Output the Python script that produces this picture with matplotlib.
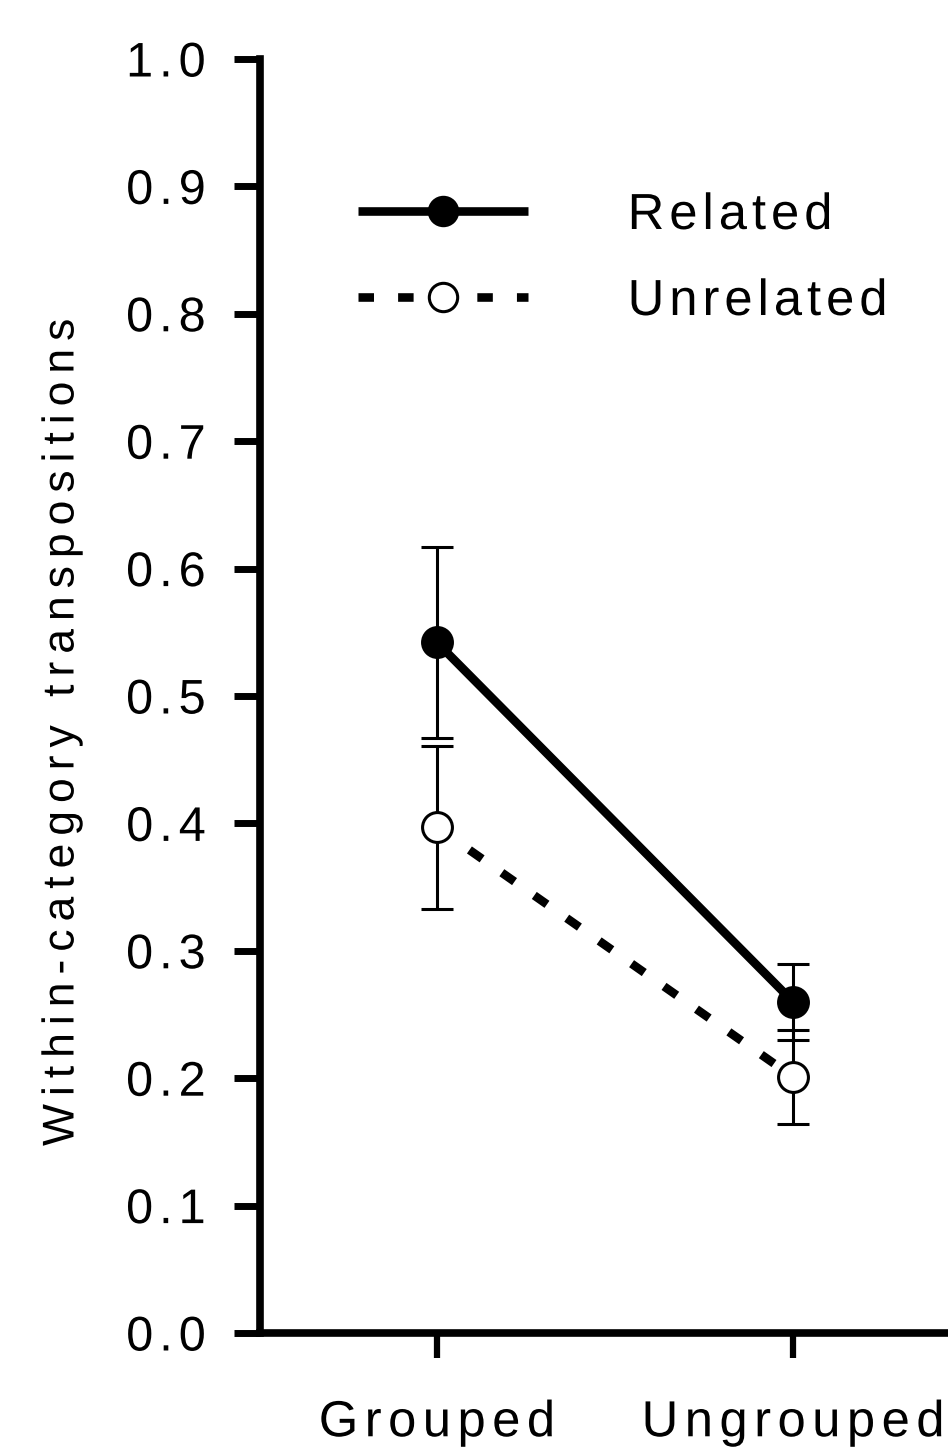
import matplotlib
matplotlib.use('Agg')
import numpy as np
import matplotlib.pyplot as plt
from matplotlib.ticker import FixedLocator, FixedFormatter
from matplotlib.patheffects import AbstractPathEffect
from matplotlib.path import Path
from matplotlib.textpath import TextToPath

# ---- data ----
conditions = ['Grouped', 'Ungrouped']
related_mean = [0.542, 0.260]
related_err = [0.075, 0.030]
unrelated_mean = [0.397, 0.201]
unrelated_err = [0.064, 0.037]
series_labels = ['Related', 'Unrelated']
y_ticks = [0.0, 0.1, 0.2, 0.3, 0.4, 0.5, 0.6, 0.7, 0.8, 0.9, 1.0]
y_tick_labels = ['0.0', '0.1', '0.2', '0.3', '0.4', '0.5', '0.6', '0.7', '0.8', '0.9', '1.0']
y_label = 'Within-category transpositions'

plt.rcParams['font.family'] = ['Liberation Sans', 'DejaVu Sans']

_t2p = TextToPath()


def _pen_positions(s, prop):
    """Glyph pen x positions in text-path units (FONT_SCALE per em)."""
    try:
        from matplotlib._text_helpers import layout
        font = _t2p._get_font(prop)
        return [item.x for item in layout(s, font)]
    except Exception:
        size = prop.get_size_in_points()
        xs = [0.0]
        for k in range(1, len(s)):
            w, _, _ = _t2p.get_text_width_height_descent(s[:k], prop, ismath=False)
            xs.append(w * _t2p.FONT_SCALE / size)
        return xs


class LetterSpacing(AbstractPathEffect):
    """Render a text with extra tracking between its letters."""

    def __init__(self, text_artist, spacing_px, align='center'):
        super().__init__()
        self.text_artist = text_artist
        self.spacing_px = spacing_px
        self.align = align

    def draw_path(self, renderer, gc, tpath, affine, rgbFace=None):
        s = self.text_artist.get_text()
        prop = self.text_artist.get_fontproperties()
        n = len(s)
        if n < 2 or tpath.codes is None:
            renderer.draw_path(gc, tpath, affine, rgbFace)
            return
        xs = _pen_positions(s, prop)
        bounds = np.asarray(xs[1:], dtype=float)
        fs_px = renderer.points_to_pixels(prop.get_size_in_points())
        shift = self.spacing_px / (fs_px / _t2p.FONT_SCALE)
        if self.align == 'center':
            off = (n - 1) / 2.0
        elif self.align == 'right':
            off = n - 1
        else:
            off = 0.0
        verts = np.array(tpath.vertices, dtype=float)
        codes = np.asarray(tpath.codes)
        starts = list(np.nonzero(codes == Path.MOVETO)[0]) + [len(codes)]
        for a, b in zip(starts[:-1], starts[1:]):
            seg = slice(a, b)
            mask = codes[seg] != Path.CLOSEPOLY
            if not mask.any():
                continue
            cx = verts[seg][mask, 0]
            center = 0.5 * (cx.min() + cx.max())
            idx = int(np.searchsorted(bounds, center, side='right'))
            verts[a:b, 0] += (idx - off) * shift
        renderer.draw_path(gc, Path(verts, codes), affine, rgbFace)


W, H = 948, 1456
fig = plt.figure(figsize=(W / 100, H / 100), dpi=100)
ax = fig.add_axes([260 / W, 123 / H, 688 / W, 1274 / H])

x = list(range(len(conditions)))

# error bars
ax.errorbar(x, related_mean, yerr=related_err, fmt='none', ecolor='black',
            elinewidth=2.2, capsize=11.5, capthick=2.2, zorder=2)
ax.errorbar(x, unrelated_mean, yerr=unrelated_err, fmt='none', ecolor='black',
            elinewidth=2.2, capsize=11.5, capthick=2.2, zorder=2)

# lines with markers
l1, = ax.plot(x, related_mean, color='black', lw=6.2, marker='o', ms=21.5,
              mfc='black', mec='black', mew=2.2, solid_capstyle='butt',
              label=series_labels[0], zorder=3)
l2, = ax.plot(x, unrelated_mean, color='black', lw=6.2, marker='o', ms=21.5,
              mfc='white', mec='black', mew=2.2, dashes=(1.8, 2.8),
              dash_capstyle='butt', label=series_labels[1], zorder=3)

ax.set_xlim(-0.497, 1.435)
ax.set_ylim(0, 1.0)

ax.yaxis.set_major_locator(FixedLocator(y_ticks))
ax.yaxis.set_major_formatter(FixedFormatter(y_tick_labels))
ax.set_xticks(x)
ax.set_xticklabels(conditions)

for s in ['top', 'right']:
    ax.spines[s].set_visible(False)
for s in ['left', 'bottom']:
    ax.spines[s].set_linewidth(5.5)
    ax.spines[s].set_color('black')
    ax.spines[s].set_capstyle('projecting')

ax.tick_params(axis='y', length=19, width=5, labelsize=35, pad=20, direction='out')
ax.tick_params(axis='x', length=18, width=4.5, labelsize=36.5, pad=29, direction='out')

ylab = fig.text(62 / W, 1 - 732 / H, y_label, rotation=90, ha='center', va='center',
                fontsize=32)
ylab.set_path_effects([LetterSpacing(ylab, 8.0, 'center')])

leg = ax.legend(handles=[l1, l2], loc='upper left',
                bbox_to_anchor=(98 / 688, (1333 - 191) / 1274),
                frameon=False, fontsize=36.5, handlelength=3.35,
                handletextpad=1.97, labelspacing=0.73, borderpad=0,
                borderaxespad=0, markerscale=0.95)
for t in leg.get_texts():
    t.set_path_effects([LetterSpacing(t, 5.0, 'left')])

fig.canvas.draw()
for t in ax.get_yticklabels():
    t.set_path_effects([LetterSpacing(t, 6.0, 'right')])
for t in ax.get_xticklabels():
    t.set_path_effects([LetterSpacing(t, 6.5, 'center')])

fig.savefig('out.png', dpi=100)
